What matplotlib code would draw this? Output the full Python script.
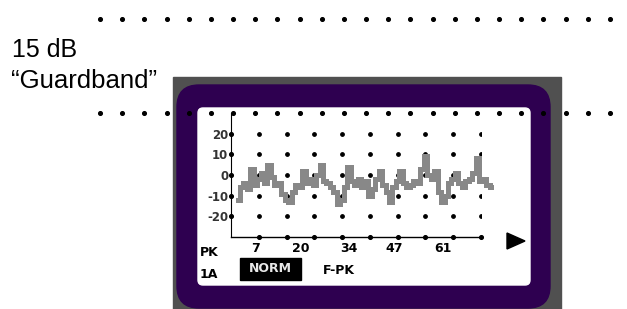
import numpy as np
import matplotlib.pyplot as plt
from matplotlib.patches import FancyBboxPatch, Rectangle, Polygon

# trace (channel, dB)
canal = np.arange(2, 76)
nivel = [-12, -6, -4, -7, 3, -5, -2, 1, -4, 5, -1, -5, -4, -9, -12, -13, -8, -5,
         -6, 2, -4, -2, -5, 0, 5, -3, -4, -6, -8, -14, -12, -6, 4, -3, -5, -2,
         -6, -3, -10, -7, -2, 2, -5, -8, -13, -6, -3, 2, -4, -6, -5, -3, -4, 3,
         9, 0, -2, 2, -8, -13, -10, -4, -2, 1, -4, -6, -3, -2, 1, 8, -3, -2, -5, -6]
yticks = [20, 10, 0, -10, -20]
xticks = [7, 20, 34, 47, 61]
xgrid = np.arange(8, 73, 8)

fig = plt.figure(figsize=(6.27, 3.09), dpi=100)

# fundo em pixels
bg = fig.add_axes([0, 0, 1, 1])
bg.set_xlim(0, 627)
bg.set_ylim(309, 0)
bg.axis('off')

bg.add_patch(Rectangle((173, 77), 388, 240, color='#505050', zorder=1))
bg.add_patch(FancyBboxPatch((177, 85), 373, 223, boxstyle='round,pad=0,rounding_size=22',
                            color='#2e0050', zorder=2))
bg.add_patch(FancyBboxPatch((198, 108), 332, 177, boxstyle='round,pad=0,rounding_size=5',
                            color='white', zorder=3))

# linhas pontilhadas
xd = np.linspace(100, 610, 24)
bg.scatter(xd, np.full_like(xd, 19), s=7, color='k', zorder=10)
bg.scatter(xd, np.full_like(xd, 113), s=7, color='k', zorder=10)

bg.text(12, 57, '15 dB', fontsize=18, family='Liberation Sans', va='baseline', zorder=5)
bg.text(11, 88, '\u201cGuardband\u201d', fontsize=18.5, family='Liberation Sans', va='baseline', zorder=5)

# textos da tela
bg.text(200, 256, 'PK', fontsize=9, fontweight='bold', va='baseline', zorder=5)
bg.text(200, 278, '1A', fontsize=9, fontweight='bold', va='baseline', zorder=5)
bg.add_patch(Rectangle((240, 258), 61, 22, color='black', zorder=5))
bg.text(270.5, 269, 'NORM', fontsize=9, fontweight='bold', color='#e8e8e8',
        ha='center', va='center', zorder=6)
bg.text(323, 274, 'F-PK', fontsize=9, fontweight='bold', va='baseline', zorder=5)
bg.add_patch(Polygon([[507, 233], [507, 249], [525, 241]], color='black', zorder=5))

# grafico
ax = fig.add_axes([231/627, 72/309, 250/627, 124/309])
ax.patch.set_alpha(0)
ax.set_xlim(0, 72)
ax.set_ylim(-30, 30)
for s in ['top', 'right']:
    ax.spines[s].set_visible(False)
ax.spines['left'].set_linewidth(0.8)
ax.spines['bottom'].set_linewidth(1.0)

gx, gy = np.meshgrid(xgrid, yticks)
ax.scatter(gx.ravel(), gy.ravel(), s=6, color='k', zorder=2)
ax.scatter(xgrid, np.full(len(xgrid), -30), s=7, color='k', clip_on=False, zorder=3)
ax.scatter(np.zeros(len(yticks)), yticks, s=7, color='k', clip_on=False, zorder=3)

ax.plot(canal, nivel, drawstyle='steps-mid', color='#888888', lw=3.6,
        solid_joinstyle='miter', clip_on=False, zorder=4)

ax.set_yticks(yticks)
ax.set_yticklabels([str(v) for v in yticks], fontsize=8.5, fontweight='bold', color='#333333')
ax.set_xticks(xticks)
ax.set_xticklabels([str(v) for v in xticks], fontsize=9, fontweight='bold')
ax.tick_params(axis='y', length=0, pad=2)
ax.tick_params(axis='x', length=0, pad=3.5)

fig.savefig('out.png', dpi=100)
